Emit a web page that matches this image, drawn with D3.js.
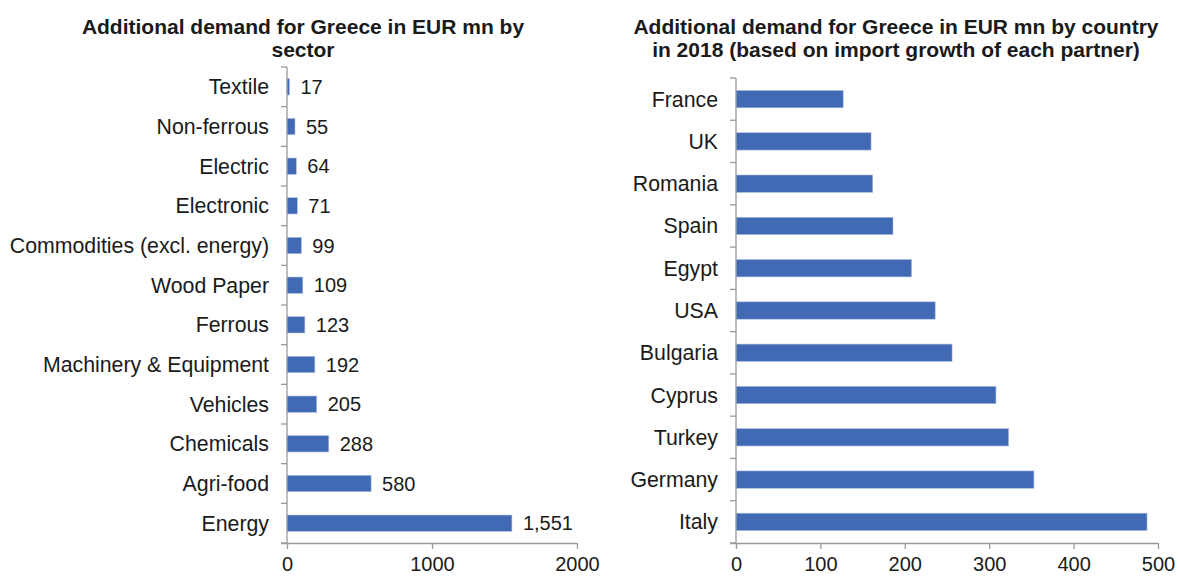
<!DOCTYPE html>
<meta charset="utf-8">
<head>
    <style>
        body { margin: 0; background: #fff; }
        text { font-family: "Liberation Sans", Arial, sans-serif; fill: #1a1a1a; }
        .title { font-weight: bold; font-size: 21px; }
        .cat { font-size: 21.3px; }
        .num { font-size: 20px; }
        .axis line, .axis path { stroke: #9a9a9a; stroke-width: 1.3; }
    </style>
    <script src="https://cdn.jsdelivr.net/npm/d3@7"></script>
</head>
<body></body>
<script>

    var sectors = ["Textile", "Non-ferrous", "Electric", "Electronic", "Commodities (excl. energy)",
                   "Wood Paper", "Ferrous", "Machinery & Equipment", "Vehicles", "Chemicals", "Agri-food", "Energy"],
        sectorValues = [17, 55, 64, 71, 99, 109, 123, 192, 205, 288, 580, 1551],
        sectorTicks = [0, 1000, 2000];

    var countries = ["France", "UK", "Romania", "Spain", "Egypt", "USA", "Bulgaria", "Cyprus", "Turkey", "Germany", "Italy"],
        countryValues = [127, 160, 162, 186, 208, 236, 256, 308, 323, 353, 487],
        countryTicks = [0, 100, 200, 300, 400, 500];

    var leftTitle = ["Additional demand for Greece in EUR mn by", "sector"],
        rightTitle = ["Additional demand for Greece in EUR mn by country", "in 2018 (based on import growth of each partner)"];

    var barColor = "#4169b4";

    var svg = d3.select("body").append("svg")
        .attr("width", 1180)
        .attr("height", 577);

    drawPanel({
        cats: sectors, vals: sectorValues, ticks: sectorTicks,
        x0: 287, x1: 577, y0: 67, y1: 543,
        title: leftTitle, titleX: 303, labels: true
    });

    drawPanel({
        cats: countries, vals: countryValues, ticks: countryTicks,
        x0: 736, x1: 1158, y0: 78, y1: 543,
        title: rightTitle, titleX: 896, labels: false
    });

    function drawPanel(p) {
        var g = svg.append("g");

        var x = d3.scaleLinear()
            .domain([0, p.ticks[p.ticks.length - 1]])
            .range([p.x0, p.x1]);

        var y = d3.scaleBand()
            .domain(p.cats)
            .range([p.y0, p.y1]);

        var barH = y.bandwidth() * 0.41;

        //title, two lines
        g.selectAll(".title")
          .data(p.title)
            .enter().append("text")
            .attr("class", "title")
            .attr("x", p.titleX)
            .attr("y", function(d, i) { return 34 + i * 23; })
            .attr("text-anchor", "middle")
            .text(function(d) { return d; });

        //bars
        g.selectAll("rect")
          .data(p.vals)
            .enter().append("rect")
            .attr("x", x(0))
            .attr("y", function(d, i) { return y(p.cats[i]) + (y.bandwidth() - barH) / 2; })
            .attr("width", function(d) { return x(d) - x(0); })
            .attr("height", barH)
            .style("fill", barColor)
            .style("stroke", "#a9bbe0")
            .style("stroke-width", 0.6);

        //category axis with ticks between the categories
        var ya = g.append("g").attr("class", "axis");
        ya.append("line")
            .attr("x1", x(0)).attr("x2", x(0))
            .attr("y1", p.y0).attr("y2", p.y1);
        ya.selectAll(".tk")
          .data(d3.range(p.cats.length + 1))
            .enter().append("line")
            .attr("class", "tk")
            .attr("x1", x(0) - 6).attr("x2", x(0))
            .attr("y1", function(i) { return p.y0 + i * y.step(); })
            .attr("y2", function(i) { return p.y0 + i * y.step(); });

        g.selectAll(".cat")
          .data(p.cats)
            .enter().append("text")
            .attr("class", "cat")
            .attr("x", x(0) - 18)
            .attr("y", function(d) { return y(d) + y.bandwidth() / 2; })
            .attr("dy", "0.35em")
            .attr("text-anchor", "end")
            .text(function(d) { return d; });

        //value axis
        var xa = g.append("g")
            .attr("class", "axis")
            .attr("transform", "translate(0," + p.y1 + ")")
            .call(d3.axisBottom(x).tickValues(p.ticks).tickSizeInner(6).tickSizeOuter(0).tickFormat(d3.format("d")));
        xa.select(".domain").attr("d", "M" + (x(0) - 6) + ",0.5H" + x.range()[1]);
        xa.selectAll("text")
            .attr("class", "num")
            .attr("y", 14)
            .attr("dy", "0.71em")
            .style("fill", "#1a1a1a");
        xa.attr("font-size", null).attr("font-family", null);

        //value labels
        if (p.labels) {
            g.selectAll(".val")
              .data(p.vals)
                .enter().append("text")
                .attr("class", "num")
                .attr("x", function(d) { return x(d) + 11; })
                .attr("y", function(d, i) { return y(p.cats[i]) + y.bandwidth() / 2; })
                .attr("dy", "0.36em")
                .text(function(d) { return d3.format(",")(d); });
        }
    }

</script>
